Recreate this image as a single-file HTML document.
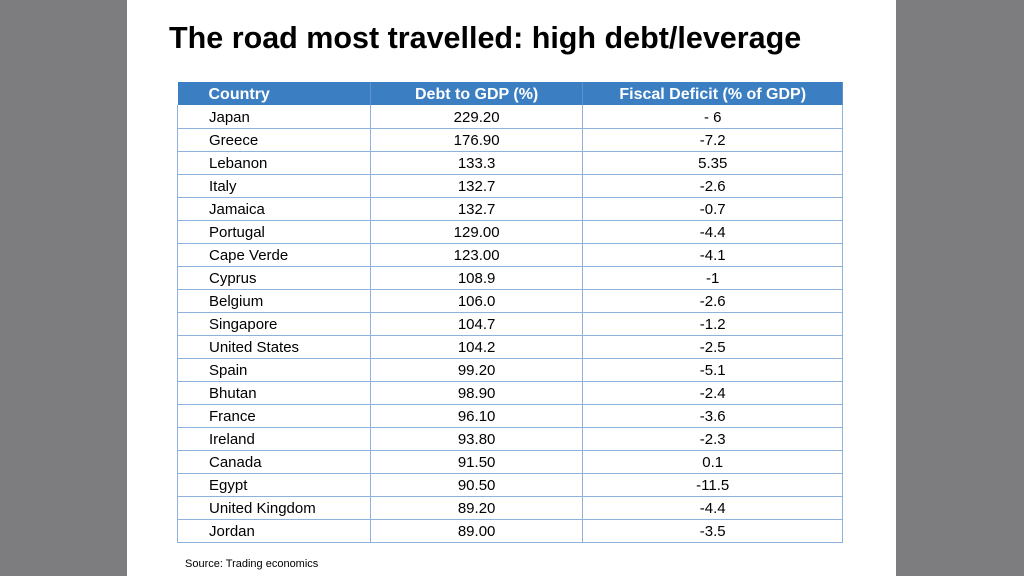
<!DOCTYPE html>
<html><head><meta charset="utf-8"><style>
body{margin:0;width:1024px;height:576px;background:#7d7d7f;position:relative;overflow:hidden;font-family:"Liberation Sans",Arial,sans-serif}
#slide{position:absolute;left:127px;top:0;width:769px;height:576px;background:#fff}
h1{position:absolute;left:169px;top:21px;margin:0;font-size:30.5px;font-weight:bold;color:#000;white-space:nowrap}
table{position:absolute;left:177px;top:82px;width:666px;border-collapse:collapse;font-size:15px}
th{background:#3b7fc2;color:#fff;font-weight:bold;height:23px;padding:3px 0 0 0;box-sizing:border-box;font-size:16px;border-right:1px solid #5c93cc}
td{height:22px;padding:3px 0 0 0;box-sizing:border-box;border:1px solid #8db3dd;border-top:none;text-align:center;color:#000;line-height:18px}
td.c{text-align:left;padding-left:31px}
th.c{text-align:left;padding-left:31px}
#src{position:absolute;left:185px;top:558px;font-size:11px;color:#000}
</style></head><body>
<div id="slide"></div>
<h1>The road most travelled: high debt/leverage</h1>
<table>
<colgroup><col style="width:193px"><col style="width:213px"><col style="width:260px"></colgroup>
<thead><tr style="height:23px"><th class="c">Country</th><th>Debt to GDP (%)</th><th>Fiscal Deficit (% of GDP)</th></tr></thead>
<tbody id="tb"></tbody></table>
<div id="src">Source: Trading economics</div>
<script>
const countries=["Japan","Greece","Lebanon","Italy","Jamaica","Portugal","Cape Verde","Cyprus","Belgium","Singapore","United States","Spain","Bhutan","France","Ireland","Canada","Egypt","United Kingdom","Jordan"];
const debt=["229.20","176.90","133.3","132.7","132.7","129.00","123.00","108.9","106.0","104.7","104.2","99.20","98.90","96.10","93.80","91.50","90.50","89.20","89.00"];
const deficit=["- 6","-7.2","5.35","-2.6","-0.7","-4.4","-4.1","-1","-2.6","-1.2","-2.5","-5.1","-2.4","-3.6","-2.3","0.1","-11.5","-4.4","-3.5"];
const tb=document.getElementById('tb');
countries.forEach((c,i)=>{
const tr=document.createElement('tr');


tr.style.height='23px';
[[c,'country-cell','c'],[debt[i],'debt-cell',''],[deficit[i],'deficit-cell','']].forEach(v=>{
const td=document.createElement('td');


if(v[2])td.className=v[2];
td.textContent=v[0];tr.appendChild(td);});
tb.appendChild(tr);});
</script>
</body></html>
